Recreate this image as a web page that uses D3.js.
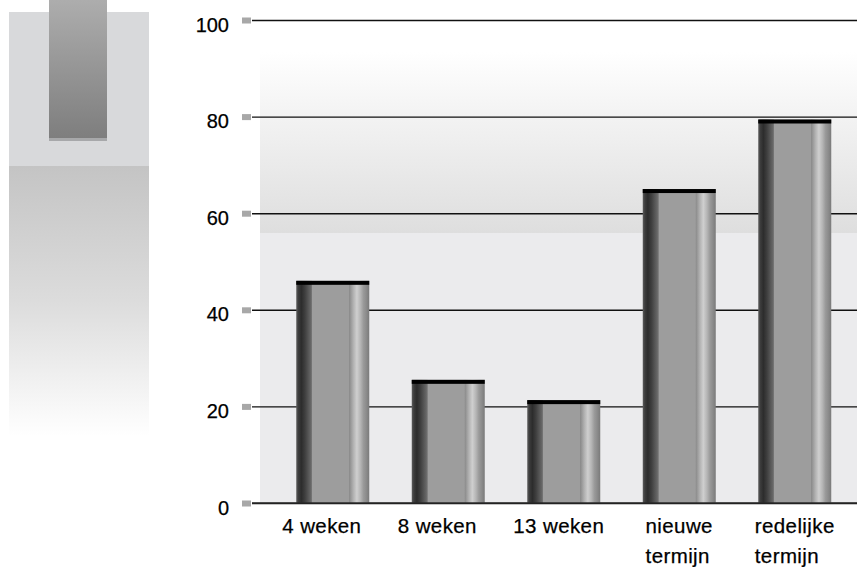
<!DOCTYPE html>
<html>
<head>
<meta charset="utf-8">
<script src="https://cdn.jsdelivr.net/npm/d3@7"></script>
<style>
  html, body { margin: 0; padding: 0; background: #fff; }
  svg { display: block; font-family: "Liberation Sans", Arial, Helvetica, sans-serif; }
</style>
</head>
<body>
<svg id="chart" width="857" height="567"></svg>
<script>
// Categories (each entry is split into display lines)
const categories = ["4 weken", "8 weken", "13 weken", "nieuwe termijn", "redelijke termijn"];
const labelLines = [["4 weken"], ["8 weken"], ["13 weken"], ["nieuwe", "termijn"], ["redelijke", "termijn"]];
// Percentage per category
const values = [46, 25.5, 21.3, 65, 79.4];
// Y-axis tick values
const yTicks = [0, 20, 40, 60, 80, 100];

const W = 857, H = 567;
const svg = d3.select("#chart");
const defs = svg.append("defs");

const plotLeft = 252, plotRight = 857, plotTop = 20, plotBottom = 503;

const y = d3.scaleLinear().domain([0, 100]).range([plotBottom, plotTop]);
const x = d3.scaleBand().domain(categories).range([275, 852.5])
  .paddingInner(0.368).paddingOuter(0.184);

// ---- gradients ----
function vGrad(id, stops, y1, y2) {
  const g = defs.append("linearGradient").attr("id", id)
    .attr("gradientUnits", "userSpaceOnUse")
    .attr("x1", 0).attr("x2", 0).attr("y1", y1).attr("y2", y2);
  stops.forEach(s => g.append("stop").attr("offset", s[0]).attr("stop-color", s[1]));
}
vGrad("legendFade", [[0, "#c4c4c4"], [0.5, "#dcdcdc"], [1, "#ffffff"]], 166, 436);
vGrad("legendBar", [[0, "#adadad"], [1, "#7e7e7e"]], 0, 138);
vGrad("plotTop", [[0, "#ffffff"], [0.35, "#f3f3f3"], [1, "#dedede"]], 52, 233);

const barGrad = defs.append("linearGradient").attr("id", "barShade")
  .attr("x1", 0).attr("x2", 1).attr("y1", 0).attr("y2", 0);
[
  [0, "#5c5c5c"], [0.03, "#3c3c3c"], [0.07, "#2c2c2c"], [0.12, "#3f3f3f"],
  [0.2, "#676767"], [0.215, "#7a7a7a"], [0.22, "#9d9d9d"], [0.72, "#9d9d9d"],
  [0.73, "#8c8c8c"], [0.78, "#b0b0b0"], [0.83, "#cfcfcf"], [0.88, "#b5b5b5"],
  [0.92, "#9a9a9a"], [0.96, "#8b8b8b"], [1, "#7a7a7a"]
].forEach(s => barGrad.append("stop").attr("offset", s[0]).attr("stop-color", s[1]));

// ---- legend-style swatch on the left ----
const deco = svg.append("g");
deco.append("rect").attr("x", 9).attr("y", 12).attr("width", 140).attr("height", 154).attr("fill", "#d8d9db");
deco.append("rect").attr("x", 9).attr("y", 166).attr("width", 140).attr("height", 270).attr("fill", "url(#legendFade)");
deco.append("rect").attr("x", 49).attr("y", 0).attr("width", 58).attr("height", 138).attr("fill", "url(#legendBar)");
deco.append("rect").attr("x", 49).attr("y", 138).attr("width", 58).attr("height", 3).attr("fill", "#a7a8aa");

// ---- plot background ----
svg.append("rect").attr("x", 260).attr("y", 52).attr("width", W - 260).attr("height", 233 - 52)
  .attr("fill", "url(#plotTop)");
svg.append("rect").attr("x", 260).attr("y", 233).attr("width", W - 260).attr("height", plotBottom - 233)
  .attr("fill", "#ebebed");

// ---- y axis with gridlines ----
const yAxis = d3.axisLeft(y).tickValues(yTicks).tickFormat(d3.format("d"))
  .tickSizeInner(-(plotRight - plotLeft)).tickSizeOuter(0).tickPadding(23);
const gy = svg.append("g").attr("transform", `translate(${plotLeft},0)`).call(yAxis);
gy.select(".domain").remove();
gy.selectAll(".tick line").attr("stroke", "#111").attr("stroke-width", 1.4);
gy.selectAll(".tick text")
  .style("font-size", "20px").style("font-family", "'Liberation Sans', Arial, sans-serif")
  .attr("fill", "#000").attr("stroke", "#000").attr("stroke-width", 0.25)
  .attr("dy", "0.55em");
gy.selectAll(".tick").append("rect")
  .attr("x", -10).attr("y", -3).attr("width", 9).attr("height", 6).attr("fill", "#a8a8a8");

// ---- bars ----
const bars = svg.append("g");
bars.selectAll("rect.bar").data(values).join("rect").attr("class", "bar")
  .attr("x", (d, i) => x(categories[i]))
  .attr("y", d => y(d))
  .attr("width", x.bandwidth())
  .attr("height", d => y(0) - y(d))
  .attr("fill", "url(#barShade)");
bars.selectAll("rect.cap").data(values).join("rect").attr("class", "cap")
  .attr("x", (d, i) => x(categories[i]))
  .attr("y", d => y(d))
  .attr("width", x.bandwidth())
  .attr("height", 4)
  .attr("fill", "#000");

// ---- baseline ----
svg.append("line").attr("x1", plotLeft).attr("x2", plotRight)
  .attr("y1", y(0)).attr("y2", y(0)).attr("stroke", "#2a2a2a").attr("stroke-width", 1.6);

// ---- category labels: lines left-aligned inside a block centred on the bar ----
const labels = svg.append("g")
  .style("font-size", "20.5px").style("letter-spacing", "0.4px")
  .attr("fill", "#000").attr("stroke", "#000").attr("stroke-width", 0.25);
categories.forEach((c, i) => {
  const t = labels.append("text").attr("y", 533);
  labelLines[i].forEach((ln, j) => {
    t.append("tspan").attr("x", 0).attr("dy", j === 0 ? 0 : 30).text(ln);
  });
  let widest = 0;
  t.selectAll("tspan").each(function () { widest = Math.max(widest, this.getComputedTextLength()); });
  // single-line labels sit in a block slightly wider than the bar; stacked labels hug their widest line
  const block = labelLines[i].length > 1 ? widest : Math.max(widest, x.bandwidth() + 28);
  const left = x(c) + x.bandwidth() / 2 - block / 2;
  t.selectAll("tspan").attr("x", left);
});
</script>
</body>
</html>
